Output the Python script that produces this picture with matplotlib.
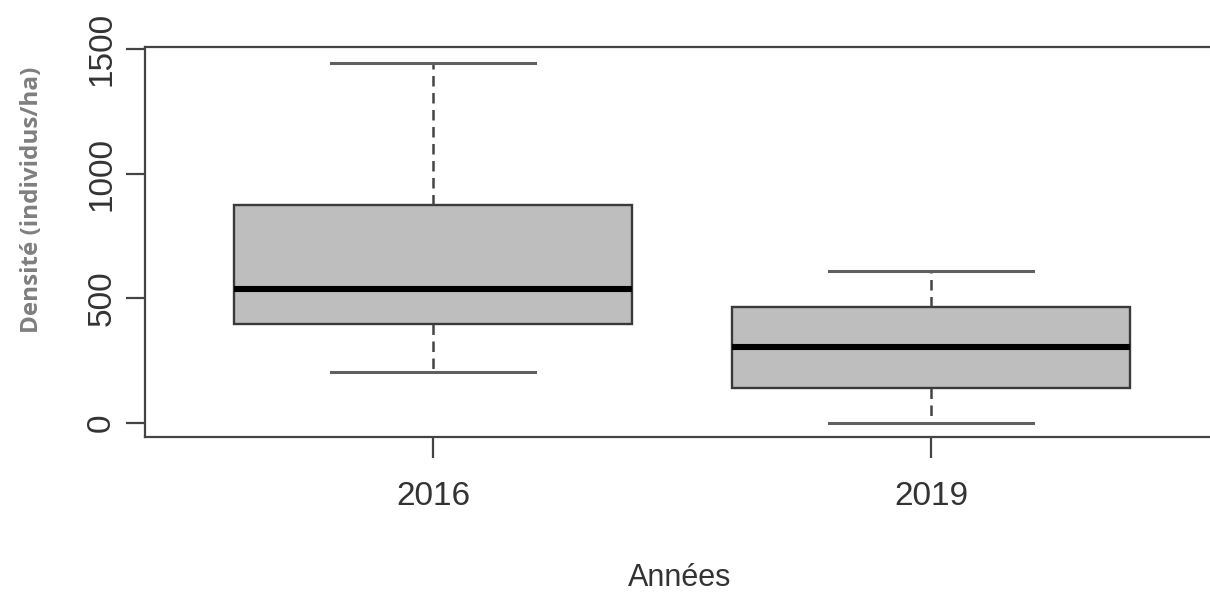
import matplotlib
matplotlib.use("Agg")
import matplotlib.pyplot as plt

# Data
years = ["2016", "2019"]
whisker_low = [205, 0]
q1 = [397, 140]
median = [538, 305]
q3 = [875, 462]
whisker_high = [1445, 610]
y_ticks = [0, 500, 1000, 1500]

stats = []
for i, lab in enumerate(years):
    stats.append(dict(label=lab, whislo=whisker_low[i], q1=q1[i], med=median[i],
                      q3=q3[i], whishi=whisker_high[i], fliers=[]))

fig = plt.figure(figsize=(12.10, 5.94), dpi=100)
ax = fig.add_axes([145 / 1210, 1 - 437 / 594, 1 - 145 / 1210, (437 - 47) / 594])

ax.bxp(stats, positions=[1, 2], widths=0.8, patch_artist=True, showfliers=False,
       boxprops=dict(facecolor="#bebebe", edgecolor="#3a3a3a", linewidth=1.7),
       medianprops=dict(color="black", linewidth=4.4, solid_capstyle="butt"),
       whiskerprops=dict(color="#444444", linewidth=1.8, linestyle=(0, (4.2, 2.6))),
       capprops=dict(color="#606060", linewidth=2.2),
       capwidths=0.41)

ax.set_xlim(1 - 288 / 498, 2 + 279 / 498)
ax.set_ylim(-58, 1508)

ax.set_yticks(y_ticks)
ax.set_yticklabels([str(v) for v in y_ticks], rotation=90, va="center",
                   fontsize=24, color="#333333", family="Liberation Sans")
ax.set_xticks([1, 2])
ax.set_xticklabels(years, fontsize=24, color="#333333", family="Liberation Sans")

ax.tick_params(axis="y", length=14, width=1.6, color="#444444", pad=6)
ax.tick_params(axis="x", length=15, width=1.6, color="#444444", pad=17)

for s in ["left", "top", "bottom"]:
    ax.spines[s].set_color("#444444")
    ax.spines[s].set_linewidth(1.6)
ax.spines["right"].set_visible(False)

ax.set_xlabel("Années", fontsize=22, color="#333333", family="Liberation Sans")
ax.xaxis.set_label_coords((680 - 145) / (1210 - 145), -(578 - 437) / 390)
ax.xaxis.label.set_va("center")
fig.text(32 / 1210, 1 - 200 / 594, "Densité (individus/ha)", rotation=90,
         ha="center", va="center", fontsize=17.5, fontweight="bold",
         color="#7f7f7f", family="Open Sans")

fig.savefig("out.png", dpi=100)
